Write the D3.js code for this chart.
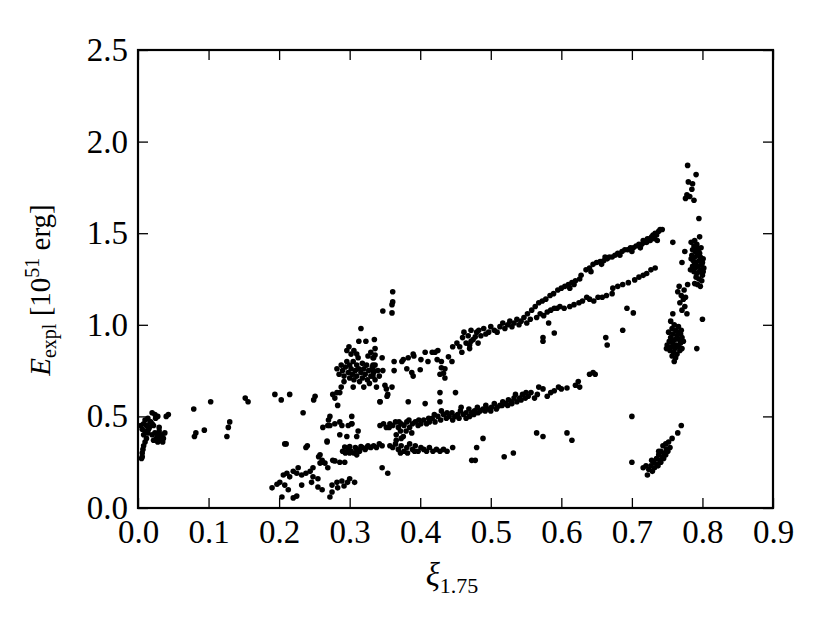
<!DOCTYPE html>
<html><head><meta charset="utf-8">
<script src="https://cdn.jsdelivr.net/npm/d3@7"></script>
<style>body{margin:0;background:#fff}svg{display:block}</style>
</head><body><svg id="c" width="830" height="630"></svg>
<script>
// ---- data (xi_1.75, E_expl in 1e51 erg) ----
const xTicks = [0.0,0.1,0.2,0.3,0.4,0.5,0.6,0.7,0.8,0.9];
const yTicks = [0.0,0.5,1.0,1.5,2.0,2.5];

const groupLowXi = [[0.024,0.51],[0.043,0.51],[0.040,0.50],[0.020,0.52],[0.025,0.49],[0.028,0.50],[0.010,0.48],[0.014,0.49],[0.018,0.47],[0.008,0.46],[0.012,0.45],[0.016,0.44],[0.020,0.46],[0.022,0.45],[0.006,0.43],[0.010,0.42],[0.014,0.41],[0.008,0.40],[0.024,0.41],[0.028,0.40],[0.030,0.42],[0.034,0.40],[0.036,0.38],[0.032,0.37],[0.026,0.38],[0.022,0.37],[0.030,0.39],[0.038,0.41],[0.020,0.40],[0.028,0.36],[0.035,0.36],[0.012,0.38],[0.010,0.36],[0.008,0.34],[0.007,0.32],[0.006,0.30],[0.006,0.28],[0.005,0.27],[0.015,0.43],[0.017,0.47],[0.004,0.45],[0.030,0.44],
 [0.079,0.54],[0.103,0.58],[0.082,0.41],[0.080,0.39],[0.094,0.425],[0.130,0.47],[0.128,0.44],[0.126,0.39],[0.152,0.60],[0.156,0.58]];

const groupMidLow = [[0.194,0.62],[0.203,0.59],[0.215,0.62],[0.251,0.61],[0.249,0.59],[0.234,0.52],[0.210,0.35],[0.238,0.33],[0.256,0.28],[0.262,0.25],[0.268,0.36],[0.270,0.48],[0.272,0.50],[0.269,0.45],
 [0.262,0.44],[0.272,0.45],[0.279,0.46],[0.286,0.47],[0.289,0.45],[0.298,0.45],[0.303,0.46],[0.312,0.42],[0.286,0.40],[0.296,0.39],[0.310,0.39],[0.208,0.35],[0.240,0.34],[0.268,0.366],[0.293,0.333],[0.300,0.335],[0.308,0.33],[0.316,0.335],[0.325,0.333],[0.293,0.305],[0.300,0.30],[0.310,0.29],[0.258,0.29],[0.261,0.26],[0.265,0.245],[0.279,0.257],[0.286,0.25],[0.293,0.25],[0.269,0.22],[0.248,0.22],[0.244,0.20],[0.227,0.22],[0.220,0.20],[0.211,0.19],[0.206,0.18],[0.248,0.17],[0.232,0.18],[0.246,0.14],[0.255,0.115],[0.261,0.10],[0.201,0.14],[0.208,0.125],[0.197,0.13],[0.190,0.11],[0.213,0.10],[0.232,0.125],[0.275,0.125],[0.282,0.14],[0.289,0.147],[0.297,0.14],[0.307,0.14],[0.300,0.16],[0.275,0.087],[0.272,0.06],[0.220,0.055],[0.225,0.065],[0.204,0.06],[0.258,0.245],[0.215,0.17],[0.225,0.19],[0.238,0.19],[0.255,0.16],[0.283,0.11],[0.292,0.12],
 [0.276,0.26],[0.346,0.22],[0.354,0.19],[0.283,0.56],[0.303,0.50],[0.303,0.46]];

const groupBlob = [[0.282,0.76],[0.285,0.73],[0.288,0.78],[0.290,0.75],[0.292,0.72],[0.294,0.77],[0.296,0.80],[0.298,0.74],[0.300,0.71],[0.300,0.78],[0.302,0.76],[0.304,0.73],[0.305,0.80],[0.306,0.70],[0.308,0.75],[0.310,0.78],[0.310,0.72],[0.312,0.82],[0.313,0.76],[0.314,0.69],[0.316,0.74],[0.318,0.79],[0.318,0.71],[0.320,0.76],[0.322,0.73],[0.324,0.78],[0.325,0.70],[0.327,0.75],[0.328,0.68],[0.330,0.72],[0.332,0.77],[0.334,0.74],[0.336,0.70],[0.338,0.66],[0.296,0.86],[0.299,0.88],[0.302,0.84],[0.306,0.86],[0.313,0.91],[0.316,0.98],[0.323,0.91],[0.335,0.92],[0.330,0.85],[0.326,0.83],[0.310,0.84],[0.292,0.69],[0.288,0.66],[0.305,0.66],[0.320,0.66],[0.336,0.87],[0.334,0.82],[0.336,0.78],[0.340,0.75],[0.342,0.72],[0.346,0.82],[0.347,0.75],[0.350,0.67],[0.352,0.65],[0.360,0.66],[0.354,0.62],[0.343,0.58],[0.353,0.61],[0.282,0.63],[0.286,0.63],[0.276,0.62],[0.279,0.60],
 [0.361,1.18],[0.361,1.125],[0.360,1.11],[0.347,1.075],[0.360,1.065]];

const groupUpperBand = [[0.336,0.835],[0.333,0.82],[0.333,0.78],[0.334,0.75],[0.333,0.72],[0.363,0.80],[0.363,0.75],[0.374,0.80],[0.376,0.81],[0.383,0.82],[0.390,0.84],[0.391,0.83],[0.381,0.76],[0.388,0.74],[0.390,0.72],[0.400,0.755],[0.401,0.81],[0.407,0.85],[0.411,0.80],[0.417,0.85],[0.421,0.85],[0.425,0.86],[0.424,0.81],[0.430,0.80],[0.440,0.825],[0.445,0.80],[0.430,0.765],[0.435,0.76],[0.433,0.735],[0.428,0.73],[0.435,0.71],[0.446,0.88],[0.452,0.90],[0.456,0.88],[0.460,0.93],[0.459,0.85],[0.470,0.89],[0.472,0.91],[0.478,0.935],[0.480,0.96],[0.482,0.90],[0.470,0.87],
 [0.462,0.96],[0.465,0.90],[0.468,0.94],[0.472,0.97],[0.475,0.92],[0.483,0.97],[0.486,0.94],[0.490,0.98],[0.493,0.95],[0.497,0.96],[0.500,0.99],[0.505,0.97],[0.509,0.96],[0.513,0.99],[0.517,1.01],[0.520,0.98],[0.524,1.00],[0.527,1.02],[0.530,0.99],[0.533,1.01],[0.537,1.03],[0.540,1.00],[0.543,1.02],[0.547,1.04],[0.551,1.01],[0.556,1.03],[0.574,0.93],[0.574,0.91],[0.590,0.955],[0.582,1.01]];

const groupUpperBranch = [[0.552,1.06],[0.558,1.08],[0.563,1.10],[0.568,1.12],[0.573,1.13],[0.578,1.14],[0.584,1.16],[0.589,1.17],[0.595,1.19],[0.600,1.20],[0.605,1.21],[0.610,1.22],[0.615,1.23],[0.620,1.24],[0.626,1.25],[0.628,1.27],[0.635,1.30],[0.640,1.31],[0.645,1.33],[0.650,1.34],[0.655,1.345],[0.660,1.35],[0.665,1.36],[0.668,1.37],[0.672,1.37],[0.676,1.38],[0.680,1.39],[0.686,1.40],[0.690,1.41],[0.694,1.41],[0.698,1.42],[0.702,1.42],[0.706,1.43],[0.710,1.44],[0.714,1.44],[0.718,1.45],[0.721,1.45],[0.725,1.47],[0.728,1.48],[0.730,1.49],[0.733,1.50],[0.735,1.49],[0.738,1.51],[0.740,1.52],[0.743,1.52],[0.612,1.20],[0.618,1.22],[0.642,1.29],[0.657,1.33],[0.662,1.37],[0.683,1.38],[0.700,1.40],[0.712,1.42],[0.722,1.47],[0.732,1.47],[0.736,1.46],[0.726,1.46],[0.716,1.46],[0.758,1.45]];

const groupLowerBranch = [[0.565,1.04],[0.570,1.06],[0.575,1.05],[0.580,1.07],[0.585,1.08],[0.590,1.09],[0.594,1.09],[0.598,1.10],[0.604,1.09],[0.612,1.10],[0.618,1.11],[0.625,1.12],[0.630,1.13],[0.636,1.15],[0.640,1.14],[0.646,1.13],[0.652,1.15],[0.658,1.15],[0.664,1.16],[0.672,1.17],[0.673,1.20],[0.680,1.21],[0.687,1.22],[0.695,1.23],[0.704,1.245],[0.710,1.26],[0.716,1.27],[0.721,1.28],[0.727,1.30],[0.733,1.31],
 [0.693,1.09],[0.702,1.065],[0.687,0.97],[0.663,0.93],[0.665,0.89]];

const groupRight = [[0.779,1.87],[0.791,1.82],[0.780,1.78],[0.786,1.77],[0.785,1.74],[0.778,1.71],[0.776,1.69],[0.788,1.68],[0.782,1.70],[0.795,1.58],[0.796,1.48],[0.789,1.46],[0.775,1.40],[0.771,1.34],
 [0.784,1.45],[0.788,1.43],[0.792,1.44],[0.786,1.41],[0.790,1.40],[0.794,1.41],[0.798,1.42],[0.785,1.38],[0.789,1.37],[0.793,1.38],[0.797,1.37],[0.801,1.36],[0.787,1.35],[0.791,1.34],[0.795,1.35],[0.799,1.33],[0.786,1.32],[0.790,1.31],[0.794,1.32],[0.798,1.30],[0.802,1.31],[0.788,1.29],[0.792,1.28],[0.796,1.29],[0.800,1.27],[0.791,1.26],[0.795,1.25],[0.799,1.24],[0.793,1.22],[0.797,1.21],[0.789,1.33],[0.784,1.36],[0.796,1.39],[0.800,1.34],[0.792,1.42],[0.783,1.30],[0.801,1.29],
 [0.767,1.21],[0.779,1.22],[0.789,1.225],[0.765,1.18],[0.770,1.16],[0.773,1.14],[0.768,1.12],[0.775,1.10],[0.771,1.08],[0.778,1.06],[0.774,1.19],[0.776,1.15],[0.800,1.03],[0.758,1.06],[0.792,0.87],
 [0.755,1.02],[0.760,1.00],[0.757,0.98],[0.762,0.97],[0.766,0.99],[0.752,0.96],[0.758,0.95],[0.764,0.94],[0.769,0.95],[0.755,0.93],[0.761,0.92],[0.767,0.92],[0.771,0.93],[0.753,0.91],[0.758,0.90],[0.763,0.89],[0.769,0.90],[0.773,0.91],[0.750,0.89],[0.756,0.88],[0.761,0.87],[0.766,0.88],[0.771,0.87],[0.754,0.86],[0.759,0.85],[0.764,0.84],[0.768,0.86],[0.757,0.83],[0.762,0.82],[0.760,0.80],[0.749,0.87],[0.765,0.96],[0.770,0.97],[0.756,0.91]];

const groupLowRight = [[0.770,0.45],[0.765,0.41],[0.757,0.38],[0.752,0.36],[0.748,0.35],[0.754,0.33],[0.744,0.34],[0.749,0.32],[0.741,0.31],[0.746,0.30],[0.751,0.31],[0.738,0.29],[0.743,0.28],[0.748,0.29],[0.735,0.27],[0.740,0.26],[0.745,0.27],[0.731,0.25],[0.736,0.24],[0.741,0.25],[0.727,0.23],[0.732,0.22],[0.737,0.23],[0.724,0.21],[0.729,0.20],[0.722,0.18],[0.720,0.23],[0.716,0.22],[0.700,0.25],[0.700,0.50],[0.738,0.31],[0.728,0.26]];

const groupLowerBand = [[0.343,0.45],[0.348,0.46],[0.352,0.44],[0.357,0.46],[0.361,0.45],[0.365,0.47],[0.369,0.44],[0.373,0.46],[0.377,0.45],[0.381,0.47],[0.385,0.44],[0.389,0.46],[0.393,0.47],[0.397,0.45],[0.401,0.46],[0.405,0.48],[0.409,0.46],[0.413,0.47],[0.417,0.49],[0.421,0.47],[0.425,0.50],[0.429,0.48],[0.433,0.51],[0.437,0.49],[0.441,0.50],[0.445,0.52],[0.449,0.50],[0.453,0.51],[0.457,0.53],[0.461,0.51],[0.465,0.52],[0.469,0.54],[0.473,0.52],[0.477,0.53],[0.481,0.55],[0.485,0.53],[0.489,0.54],[0.493,0.56],[0.497,0.54],[0.501,0.55],[0.505,0.57],[0.509,0.55],[0.513,0.56],[0.517,0.58],[0.521,0.57],[0.525,0.59],[0.529,0.58],[0.533,0.60],[0.537,0.58],[0.541,0.60],[0.545,0.62],[0.549,0.60],[0.553,0.61],[0.557,0.63],[0.562,0.60],[0.566,0.62],[0.568,0.66],[0.574,0.65],[0.580,0.61],[0.585,0.63],[0.590,0.64],[0.596,0.66],[0.600,0.65],[0.608,0.655],[0.620,0.67],[0.624,0.69],[0.626,0.66],[0.640,0.73],[0.645,0.74],[0.648,0.73],[0.465,0.49],[0.470,0.50],[0.476,0.51],[0.482,0.52],[0.492,0.53],[0.500,0.53],[0.508,0.54],[0.516,0.56],[0.524,0.56],[0.530,0.57],[0.535,0.62],[0.543,0.59],[0.550,0.63],[0.438,0.52],[0.430,0.53],[0.420,0.51],[0.446,0.48],[0.455,0.49],[0.458,0.55],[0.412,0.49],[0.356,0.44],[0.370,0.47],[0.384,0.48],[0.398,0.48],
 [0.372,0.42],[0.380,0.42],[0.388,0.41],[0.376,0.39],[0.366,0.40],[0.343,0.58],[0.383,0.58],[0.407,0.57],[0.428,0.63],[0.450,0.63],[0.428,0.58]];

const groupBottomRow = [[0.290,0.31],[0.294,0.30],[0.298,0.32],[0.302,0.31],[0.306,0.30],[0.310,0.32],[0.314,0.31],[0.318,0.33],[0.322,0.32],[0.326,0.34],[0.330,0.33],[0.334,0.34],[0.338,0.33],[0.342,0.35],[0.346,0.34],[0.357,0.34],[0.361,0.33],[0.365,0.35],[0.369,0.32],[0.373,0.34],[0.377,0.31],[0.381,0.33],[0.385,0.35],[0.389,0.32],[0.393,0.34],[0.397,0.31],[0.401,0.33],[0.405,0.32],[0.409,0.31],[0.413,0.33],[0.418,0.31],[0.423,0.32],[0.428,0.31],[0.433,0.32],[0.438,0.31],[0.446,0.33],[0.480,0.33],[0.372,0.30],[0.382,0.30],[0.392,0.31],[0.366,0.37],[0.373,0.38],
 [0.473,0.26],[0.478,0.26],[0.489,0.38],[0.565,0.41],[0.574,0.39],[0.519,0.28],[0.532,0.30],[0.608,0.41],[0.615,0.37]];

const allGroups = [groupLowXi, groupMidLow, groupBlob, groupUpperBand, groupUpperBranch, groupLowerBranch, groupRight, groupLowRight, groupLowerBand, groupBottomRow];

// ---- layout ----
const L=138, R=773, T=50, B=508;
const svg = d3.select("#c");
const x = d3.scaleLinear().domain([0,0.9]).range([L,R]);
const y = d3.scaleLinear().domain([0,2.5]).range([B,T]);
const FONT = "'Liberation Serif','Times New Roman',serif";

const pts = allGroups.flat();
svg.append("g").selectAll("circle").data(pts).join("circle")
  .attr("cx", d=>x(d[0])).attr("cy", d=>y(d[1])).attr("r", 2.8).attr("fill","#000");

const fmt = d3.format(".1f");
function style(g){
  g.selectAll(".domain").remove();
  g.selectAll(".tick line").attr("stroke","#000").attr("stroke-width",1.3);
  g.selectAll(".tick text").attr("fill","#000").style("font-family",FONT).style("font-size","33px");
}
svg.append("g").attr("transform",`translate(0,${B})`)
  .call(d3.axisBottom(x).tickValues(xTicks).tickFormat(fmt).tickSize(-10).tickPadding(12)).call(style);
svg.append("g").attr("transform",`translate(0,${T})`)
  .call(d3.axisTop(x).tickValues(xTicks).tickFormat("").tickSize(-10)).call(style);
svg.append("g").attr("transform",`translate(${L},0)`)
  .call(d3.axisLeft(y).tickValues(yTicks).tickFormat(fmt).tickSize(-10).tickPadding(10)).call(style);
svg.append("g").attr("transform",`translate(${R},0)`)
  .call(d3.axisRight(y).tickValues(yTicks).tickFormat("").tickSize(-10)).call(style);

svg.append("rect").attr("x",L).attr("y",T).attr("width",R-L).attr("height",B-T)
  .attr("fill","none").attr("stroke","#000").attr("stroke-width",2.2);

// x label
const xl = svg.append("text").attr("x",452).attr("y",586).attr("text-anchor","middle")
  .style("font-family",FONT).style("font-size","33px").attr("fill","#000");
xl.append("tspan").style("font-style","italic").text("ξ");
xl.append("tspan").attr("dy",7).style("font-size","22px").text("1.75");

// y label
const yl = svg.append("text").attr("transform","translate(50,290) rotate(-90)").attr("text-anchor","middle")
  .style("font-family",FONT).style("font-size","29px").attr("fill","#000");
yl.append("tspan").style("font-style","italic").text("E");
yl.append("tspan").attr("dy",6).style("font-size","20px").text("expl");
yl.append("tspan").attr("dy",-6).text(" [10");
yl.append("tspan").attr("dy",-11).style("font-size","20px").text("51");
yl.append("tspan").attr("dy",11).text(" erg]");
</script></body></html>
